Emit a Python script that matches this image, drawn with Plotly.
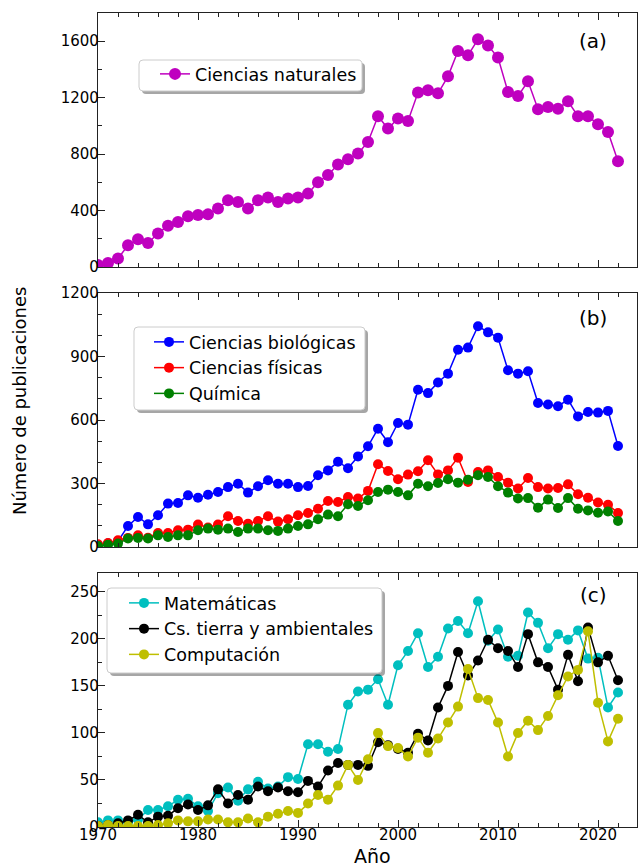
import plotly.graph_objects as go

# ---------------- data ----------------
years = list(range(1970, 2023))

naturales = [15, 28, 60, 154, 196, 170, 237, 293, 319, 359,
             369, 373, 414, 473, 461, 414, 473, 492, 461, 485,
             492, 520, 600, 652, 726, 763, 804, 886, 1068, 981,
             1052, 1035, 1236, 1252, 1231, 1351, 1531, 1500, 1614, 1569,
             1484, 1240, 1212, 1316, 1118, 1134, 1122, 1174, 1068, 1068,
             1011, 957, 749]

biologicas = [8, 16, 28, 99, 142, 107, 150, 205, 208, 244,
              233, 247, 260, 283, 299, 257, 287, 315, 299, 299,
              283, 288, 339, 362, 403, 372, 428, 476, 559, 495,
              586, 578, 743, 727, 777, 819, 932, 942, 1043, 1014,
              989, 835, 819, 830, 680, 673, 665, 696, 617, 638,
              635, 643, 477]

fisicas = [13, 19, 32, 43, 55, 44, 66, 66, 79, 82,
           106, 92, 106, 145, 123, 110, 123, 145, 120, 131,
           150, 161, 181, 217, 213, 236, 229, 265, 391, 359,
           320, 342, 358, 410, 343, 362, 422, 307, 354, 362,
           331, 304, 276, 326, 283, 276, 279, 296, 249, 233,
           210, 200, 161]

quimica = [5, 11, 16, 40, 43, 40, 55, 47, 55, 55,
           79, 87, 82, 87, 71, 87, 87, 79, 76, 87,
           99, 107, 131, 153, 145, 202, 194, 221, 260, 271,
           260, 244, 299, 287, 302, 320, 304, 318, 339, 331,
           287, 257, 229, 231, 186, 224, 184, 231, 181, 173,
           162, 168, 123]

matematicas = [5, 7, 7, 5, 8, 18, 18, 22, 29, 30,
               22, 17, 36, 42, 28, 40, 48, 41, 43, 53,
               51, 88, 88, 80, 83, 130, 144, 146, 157, 130,
               172, 187, 206, 170, 181, 211, 219, 206, 240, 198,
               210, 181, 182, 228, 217, 190, 205, 199, 209, 179,
               180, 127, 143]

tierra = [1, 2, 4, 7, 13, 5, 11, 12, 20, 24,
          18, 23, 40, 25, 34, 29, 43, 38, 42, 38,
          37, 49, 43, 60, 68, 66, 66, 65, 90, 87,
          83, 79, 99, 92, 127, 150, 186, 161, 177, 199,
          190, 187, 170, 205, 175, 170, 146, 183, 155, 212,
          175, 182, 156]

computacion = [1, 2, 1, 1, 1, 1, 2, 4, 7, 6,
               6, 8, 8, 5, 5, 9, 5, 11, 14, 17,
               15, 25, 34, 29, 44, 66, 50, 72, 100, 86,
               84, 75, 95, 79, 94, 111, 128, 168, 137, 135,
               111, 75, 100, 113, 103, 118, 140, 160, 167, 208,
               132, 91, 115]

x_ticks = [1970, 1980, 1990, 2000, 2010, 2020]
panel_labels = ["(a)", "(b)", "(c)"]

# ---------------- layout helpers ----------------
W, H = 638, 866
ML, MR, MT, MB = 98, 1, 13, 39
PW, PH = W - ML - MR, H - MT - MB


def py(p):
    return (H - MB - p) / PH


def px(p):
    return (p - ML) / PW


def rounded_rect(x0, y0, x1, y1, r=4):
    pts = [
        ("M", (x0 + r, y0)), ("L", (x1 - r, y0)),
        ("Q", (x1, y0), (x1, y0 + r)), ("L", (x1, y1 - r)),
        ("Q", (x1, y1), (x1 - r, y1)), ("L", (x0 + r, y1)),
        ("Q", (x0, y1), (x0, y1 - r)), ("L", (x0, y0 + r)),
        ("Q", (x0, y0), (x0 + r, y0)),
    ]
    s = ""
    for cmd, *cs in pts:
        s += cmd + " " + " ".join(f"{px(a):.5f},{py(b):.5f}" for a, b in cs) + " "
    return s + "Z"


FONT = "DejaVu Sans"
fig = go.Figure()

series = [
    (naturales, "Ciencias naturales", "#bf00bf", 1, 12),
    (biologicas, "Ciencias biológicas", "#0000ff", 2, 10),
    (fisicas, "Ciencias físicas", "#ff0000", 2, 10),
    (quimica, "Química", "#008000", 2, 10),
    (matematicas, "Matemáticas", "#00bfbf", 3, 10),
    (tierra, "Cs. tierra y ambientales", "#000000", 3, 10),
    (computacion, "Computación", "#bfbf00", 3, 10),
]
for vals, name, col, panel, ms in series:
    sfx = "" if panel == 1 else str(panel)
    fig.add_trace(go.Scatter(
        x=years, y=vals, name=name, mode="lines+markers",
        line=dict(color=col, width=1.5),
        marker=dict(color=col, size=ms),
        xaxis="x" + sfx, yaxis="y" + sfx,
        legend="legend" + sfx, showlegend=True,
    ))

domains = [(py(267), py(13)), (py(547), py(293)), (0, py(573))]
yranges = [(0, 1800), (0, 1200), (0, 270)]
ydt = [400, 300, 50]
ymin = [200, 100, 25]

common_axis = dict(
    showline=True, linecolor="#222", linewidth=1.2, mirror="ticks",
    ticks="inside", ticklen=7, tickcolor="#222", tickwidth=1,
    showgrid=False, zeroline=False,
    tickfont=dict(family=FONT, size=15, color="black"),
)

lay = {}
for i in range(3):
    sfx = "" if i == 0 else str(i + 1)
    lay["xaxis" + sfx] = dict(
        common_axis, domain=[0, 1], anchor="y" + sfx,
        range=[1970, 2023.9], tickvals=x_ticks,
        showticklabels=(i == 2), ticklabelstandoff=-6,
        minor=dict(dtick=2, tick0=1970, ticks="inside", ticklen=4,
                   tickcolor="#222", showgrid=False),
    )
    if i < 2:
        lay["xaxis" + sfx]["matches"] = "x3"
    lay["yaxis" + sfx] = dict(
        common_axis, domain=list(domains[i]), anchor="x" + sfx,
        range=list(yranges[i]), dtick=ydt[i], tick0=0,
        ticklabelstandoff=-5,
        minor=dict(dtick=ymin[i], tick0=0, ticks="inside", ticklen=4,
                   tickcolor="#222", showgrid=False),
    )
    lay["yaxis" + sfx]["mirror"] = True

# legend item anchors (left, top) in pixels
legend_pos = [(155, 56), (149, 324), (124, 585)]
for i, (lx, ly) in enumerate(legend_pos):
    sfx = "" if i == 0 else str(i + 1)
    lay["legend" + sfx] = dict(
        x=px(lx), y=py(ly), xanchor="left", yanchor="top",
        bgcolor="rgba(0,0,0,0)", borderwidth=0,
        font=dict(family=FONT, size=17.5, color="black"),
    )

# legend frames (boxes with shadow) in pixels
legend_boxes = [(139, 60, 362, 91), (134, 327, 365, 410), (107, 588, 382, 673)]
shapes = []
for (x0, y0, x1, y1) in legend_boxes:
    shapes.append(dict(type="path", path=rounded_rect(x0 + 3, y0 + 3, x1 + 3, y1 + 3),
                       xref="paper", yref="paper", layer="above",
                       fillcolor="rgba(0,0,0,0.35)", line=dict(width=0)))
for (x0, y0, x1, y1) in legend_boxes:
    shapes.append(dict(type="path", path=rounded_rect(x0, y0, x1, y1),
                       xref="paper", yref="paper", layer="above",
                       fillcolor="white", line=dict(color="#cccccc", width=1)))

annotations = []
label_y = [41, 318, 595]
for lab, yy in zip(panel_labels, label_y):
    annotations.append(dict(
        text=lab, x=px(593), y=py(yy), xref="paper", yref="paper",
        showarrow=False, xanchor="center", yanchor="middle",
        font=dict(family=FONT, size=20, color="black")))
annotations.append(dict(
    text="Número de publicaciones", x=px(20), y=py(401),
    xref="paper", yref="paper", showarrow=False, textangle=-90,
    xanchor="center", yanchor="middle",
    font=dict(family=FONT, size=18, color="black")))
annotations.append(dict(
    text="Año", x=px(372), y=py(856), xref="paper", yref="paper",
    showarrow=False, xanchor="center", yanchor="middle",
    font=dict(family=FONT, size=19, color="black")))

fig.update_layout(
    width=W, height=H, showlegend=True,
    margin=dict(l=ML, r=MR, t=MT, b=MB, autoexpand=False),
    paper_bgcolor="white", plot_bgcolor="white",
    font=dict(family=FONT, color="black"),
    annotations=annotations, shapes=shapes,
    **lay,
)

fig.write_html("out.html", config={"displayModeBar": False},
               post_script="document.body.style.margin='0';")
